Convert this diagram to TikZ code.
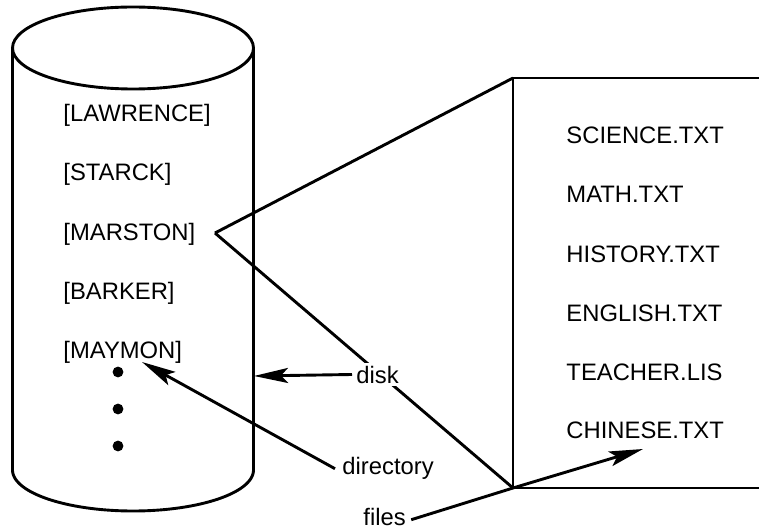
\documentclass[tikz,border=0pt]{standalone}
\usepackage{fontspec}
\setmainfont{Liberation Sans}
\usetikzlibrary{arrows.meta}
\begin{document}
\begin{tikzpicture}[x=0.5pt,y=-0.5pt,line width=1.45pt,
  lbl/.style={inner sep=0pt,anchor=base west,font=\fontsize{11.9}{14}\selectfont},
  arr/.style={-{Stealth[length=17pt,width=7.5pt,inset=3.5pt]}},
  dotmark/.style={fill=black}]
\useasboundingbox (0,0) rectangle (759,529);
% cylinder (disk)
\draw (133,48) ellipse [x radius=120.5, y radius=41];
\draw (12.5,48) -- (12.5,470)
  plot[domain=180:360,samples=80,smooth] ({133+120.5*cos(\x)},{470-41*sin(\x)})
  -- (253.5,48);
% directory names
\node[lbl] (lawrence) at (62,122) {[LAWRENCE]};
\node[lbl] (starck)   at (62,181) {[STARCK]};
\node[lbl] (marston)  at (62,240) {[MARSTON]};
\node[lbl] (barker)   at (62,299) {[BARKER]};
\node[lbl] (maymon)   at (62,358) {[MAYMON]};
\fill[dotmark] (118,372) circle[radius=2.7pt];
\fill[dotmark] (118,409) circle[radius=2.7pt];
\fill[dotmark] (118,446) circle[radius=2.7pt];
% file box
\coordinate (apex) at (215,233);
\coordinate (boxTL) at (513,78);
\coordinate (boxBL) at (513,488);
\draw (760,78) -- (boxTL) -- (boxBL) -- (760,488);
\draw (apex) -- (boxTL);
\draw (apex) -- (boxBL);
% file names
\node[lbl] (science) at (565,144) {SCIENCE.TXT};
\node[lbl] (math)    at (565,203) {MATH.TXT};
\node[lbl] (history) at (565,262) {HISTORY.TXT};
\node[lbl] (english) at (565,321) {ENGLISH.TXT};
\node[lbl] (teacher) at (565,380) {TEACHER.LIS};
\node[lbl] (chinese) at (565,438) {CHINESE.TXT};
% labels
\node[lbl,fill=white,inner sep=1.5pt] (disk) at (352,383) {disk};
\node[lbl] (directory) at (341,474) {directory};
\node[lbl] (files) at (362,525) {files};
\coordinate (wallR) at (254,376);
\coordinate (maytip) at (142,362);
\coordinate (filetip) at (643,449);
\draw[arr] (disk.west) -- (wallR);
\draw[arr] ([xshift=-3pt]directory.mid west) -- (maytip);
\draw[arr] ([xshift=2pt]files.mid east) -- (boxBL) -- (filetip);
\end{tikzpicture}
\end{document}
